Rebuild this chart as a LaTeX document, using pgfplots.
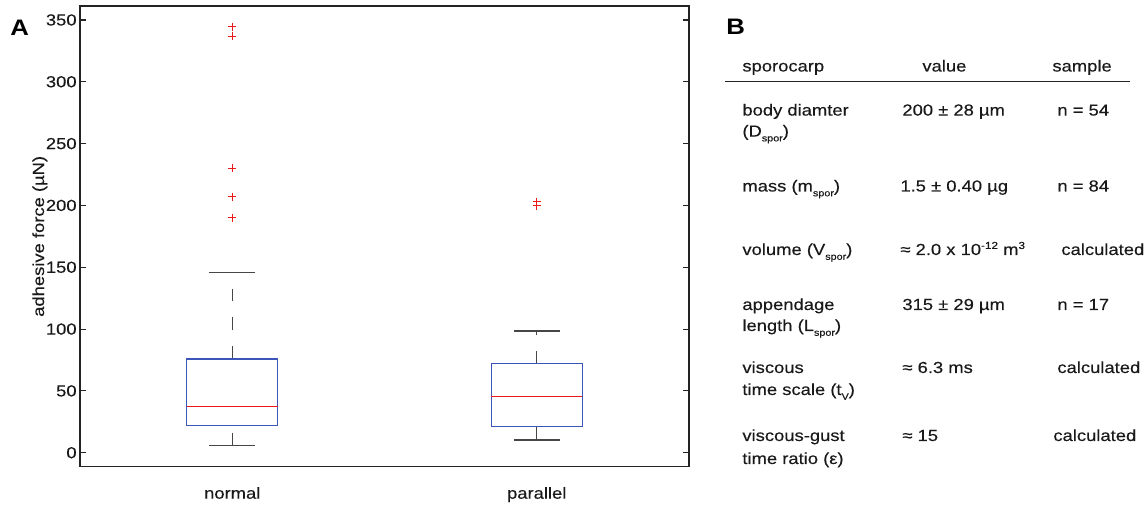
\documentclass[border=0pt]{standalone}
\usepackage{fontspec}
\setmainfont{Liberation Sans}[FakeStretch=1.15, UprightFeatures={FakeBold=0.25}]
\usepackage{pgfplots}
\pgfplotsset{compat=1.18}
\definecolor{boxcol}{RGB}{60,85,185}
\definecolor{medcol}{RGB}{235,25,25}
\definecolor{whiskcol}{RGB}{70,70,70}
\definecolor{axcol}{RGB}{35,35,35}
\definecolor{txtcol}{RGB}{25,25,25}
\newcommand\fs{\fontsize{8}{9.6}\selectfont}
\newcommand\sub[1]{\raisebox{-2.4pt}{\fontsize{4.7}{5}\selectfont #1}}
\newcommand\sups[1]{\raisebox{3.0pt}{\fontsize{5.1}{6}\selectfont #1}}
\begin{document}
\begin{tikzpicture}
\useasboundingbox (0,0) rectangle (573pt,253pt);
\begin{axis}[
  at={(40pt,19.65pt)}, anchor=south west,
  scale only axis, width=304.5pt, height=230.35pt,
  xmin=0.5, xmax=2.5, ymin=-11.3, ymax=361.3,
  axis line style={axcol, line width=0.7pt},
  xtick={1,2}, xticklabels={normal,parallel},
  x tick style={draw=none},
  ytick={0,50,...,350},
  y tick style={axcol, line width=0.55pt},
  tick align=inside, major tick length=3pt,
  /pgf/number format/assume math mode=true,
  yticklabel style={font=\fs, text=txtcol, inner sep=1.5pt},
  xticklabel style={font=\fs, text=txtcol, anchor=base, yshift=-16pt},
  ylabel={adhesive force (µN)},
  ylabel style={font=\fs, text=txtcol, at={(axis description cs:-0.0591,0.5)}, anchor=base},
  whisk/.style={whiskcol, line width=0.6pt, dash pattern=on 6.4pt off 8pt},
  cap/.style={whiskcol, line width=0.6pt},
]
% normal: LW 5.7, Q1 21.8, median 37.0, Q3 75.8, UW 145.6
\addplot[whisk] coordinates {(1,5.7) (1,21.8)};
\addplot[whisk] coordinates {(1,75.8) (1,145.6)};
\addplot[cap] coordinates {(0.925,5.7) (1.075,5.7)};
\addplot[cap] coordinates {(0.925,145.6) (1.075,145.6)};
\addplot[boxcol, line width=0.55pt] coordinates {(0.85,21.8) (1.15,21.8) (1.15,75.8) (0.85,75.8) (0.85,21.8)};
\addplot[medcol, line width=0.5pt] coordinates {(0.85,37.0) (1.15,37.0)};
\addplot[only marks, mark=+, mark size=2pt, mark options={medcol, line width=0.5pt}]
  coordinates {(1,344.6) (1,337.0) (1,230.0) (1,207.1) (1,190.1)};
% parallel: LW 10.3, Q1 21.4, median 45.1, Q3 72.0, UW 98.4
\addplot[whisk] coordinates {(2,10.3) (2,21.4)};
\addplot[whisk] coordinates {(2,72.0) (2,98.4)};
\addplot[cap] coordinates {(1.925,10.3) (2.075,10.3)};
\addplot[cap] coordinates {(1.925,98.4) (2.075,98.4)};
\addplot[boxcol, line width=0.55pt] coordinates {(1.85,21.4) (2.15,21.4) (2.15,72.0) (1.85,72.0) (1.85,21.4)};
\addplot[medcol, line width=0.5pt] coordinates {(1.85,45.1) (2.15,45.1)};
\addplot[only marks, mark=+, mark size=2pt, mark options={medcol, line width=0.5pt}]
  coordinates {(2,203.0) (2,199.8)};
\end{axis}
% panel labels
\node[anchor=base west, inner sep=0, font=\fontsize{11.2}{13}\selectfont\bfseries, text=black] at (5pt,235pt) {A};
\node[anchor=base west, inner sep=0, font=\fontsize{11.2}{13}\selectfont\bfseries, text=black] at (363pt,235.5pt) {B};
% table B
\begin{scope}[every node/.style={anchor=base west, inner sep=0, font=\fs, text=txtcol}]
\node at (371pt,217.25pt) {sporocarp};
\node at (461pt,217.25pt) {value};
\node at (526pt,217.25pt) {sample};
\draw[axcol, line width=0.6pt] (362.5pt,212.15pt) -- (565pt,212.15pt);
% row 1
\node at (371pt,195.2pt) {body diamter};
\node at (371pt,184.7pt) {(D\sub{spor})};
\node at (451pt,195.2pt) {200 ± 28 µm};
\node at (528.5pt,195.2pt) {n = 54};
% row 2
\node at (371pt,157.25pt) {mass (m\sub{spor})};
\node at (450pt,157.25pt) {1.5 ± 0.40 µg};
\node at (528.5pt,157.25pt) {n = 84};
% row 3
\node at (371pt,125.5pt) {volume (V\sub{spor})};
\node at (450pt,125.5pt) {≈ 2.0 x 10\sups{-12} m\sups{3}};
\node at (530.5pt,125.5pt) {calculated};
% row 4
\node at (371pt,98pt) {appendage};
\node at (371pt,87.5pt) {length (L\sub{spor})};
\node at (451pt,98pt) {315 ± 29 µm};
\node at (528.5pt,98pt) {n = 17};
% row 5
\node at (371pt,66.5pt) {viscous};
\node at (371pt,55.5pt) {time scale (t\sub{V})};
\node at (451pt,66.5pt) {≈ 6.3 ms};
\node at (528.5pt,66.5pt) {calculated};
% row 6
\node at (371pt,32.5pt) {viscous-gust};
\node at (371pt,21pt) {time ratio (ε)};
\node at (451pt,32.5pt) {≈ 15};
\node at (526.5pt,32.5pt) {calculated};
\end{scope}
\end{tikzpicture}
\end{document}
